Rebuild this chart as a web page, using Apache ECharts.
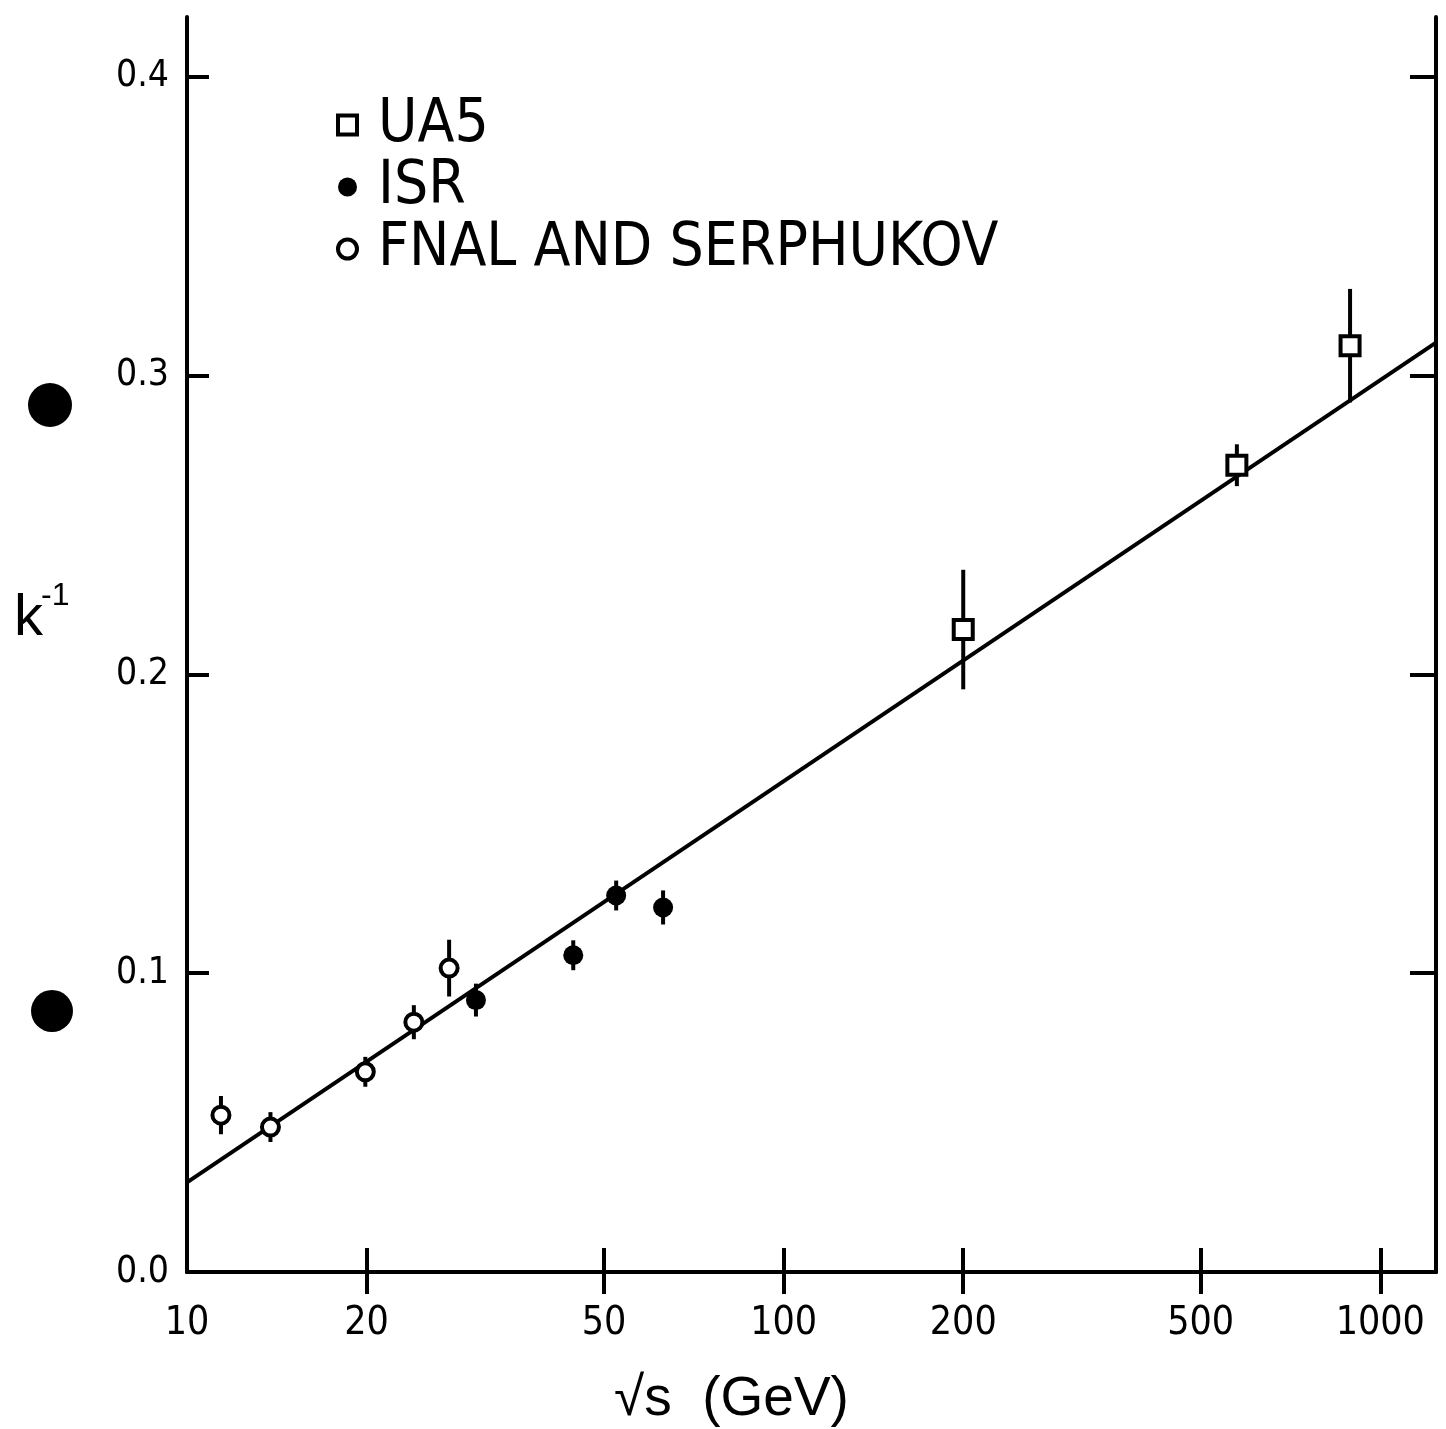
<!DOCTYPE html>
<html>
<head>
<meta charset="utf-8">
<script src="https://cdn.jsdelivr.net/npm/echarts@6/dist/echarts.min.js"></script>
<style>
html, body { margin: 0; padding: 0; background: #fff; }
#chart { width: 1446px; height: 1429px; }
</style>
</head>
<body>
<div id="chart"></div>
<script>
// values, sqrt(s) in GeV
var ua5Energy = [200, 575, 890];
var ua5Value = [0.215, 0.270, 0.310];
var ua5Err = [0.020, 0.007, 0.019];

var isrEnergy = [30.5, 44.4, 52.4, 62.8];
var isrValue = [0.091, 0.106, 0.126, 0.122];
var isrErr = [0.0055, 0.005, 0.005, 0.0057];

var fnalEnergy = [11.4, 13.8, 19.9, 24.0, 27.5];
var fnalValue = [0.0525, 0.0485, 0.067, 0.0836, 0.1017];
var fnalErr = [0.0064, 0.005, 0.005, 0.0057, 0.0095];

var fitEnergy = [10, 1240];
var fitValue = [0.030, 0.311];

var xTicks = [20, 50, 100, 200, 500, 1000];
var xLabels = [10, 20, 50, 100, 200, 500, 1000];
var yTicks = [0.1, 0.2, 0.3, 0.4];
var yLabels = [0, 0.1, 0.2, 0.3, 0.4];

var narrow = "'Liberation Sans Narrow', 'DejaVu Sans Condensed', sans-serif";

function lg(v) { return Math.log10(v); }

function points(energy, value) {
    return energy.map(function (e, i) { return [lg(e), value[i]]; });
}

function errorBars(name, energy, value, err) {
    return {
        name: name,
        type: 'custom',
        silent: true,
        z: 2,
        encode: { x: 0, y: [1, 2] },
        data: energy.map(function (e, i) { return [lg(e), value[i] - err[i], value[i] + err[i]]; }),
        renderItem: function (params, api) {
            var p1 = api.coord([api.value(0), api.value(1)]);
            var p2 = api.coord([api.value(0), api.value(2)]);
            return {
                type: 'line',
                shape: { x1: p1[0], y1: p1[1], x2: p2[0], y2: p2[1] },
                style: { stroke: '#000', lineWidth: 4 }
            };
        }
    };
}

var chart = echarts.init(document.getElementById('chart'));

var xMin = 1, xMax = lg(1240);

var option = {
    animation: false,
    backgroundColor: '#fff',
    grid: { left: 187, right: 10, top: 17, bottom: 157, containLabel: false, outerBoundsMode: 'none' },
    legend: {
        orient: 'vertical',
        left: 336,
        top: 94,
        padding: 0,
        itemWidth: 19,
        itemHeight: 19,
        itemGap: 0,
        selectedMode: false,
        textStyle: { fontFamily: narrow, fontSize: 60, lineHeight: 62, color: '#000', padding: [0, 0, 0, 16] },
        data: [
            { name: 'UA5', icon: 'rect', itemStyle: { color: '#fff', borderColor: '#000', borderWidth: 4 } },
            { name: 'ISR', icon: 'circle', itemStyle: { color: '#000', borderWidth: 0 } },
            { name: 'FNAL AND SERPHUKOV', icon: 'circle', itemStyle: { color: '#fff', borderColor: '#000', borderWidth: 4 } }
        ]
    },
    xAxis: [
        {
            type: 'value',
            position: 'bottom',
            min: xMin,
            max: xMax,
            splitLine: { show: false },
            axisLine: { show: true, lineStyle: { color: '#000', width: 4 } },
            axisTick: { inside: true, length: 24, lineStyle: { color: '#000', width: 4 }, customValues: xTicks.map(lg) },
            axisLabel: {
                customValues: xLabels.map(lg),
                formatter: function (v) { return String(Math.round(Math.pow(10, v))); },
                fontFamily: narrow, fontSize: 39, color: '#000', margin: 32
            }
        },
        {
            type: 'value',
            position: 'top',
            min: xMin,
            max: xMax,
            splitLine: { show: false },
            axisLine: { show: true, lineStyle: { color: '#000', width: 4 } },
            axisTick: { inside: true, length: 22, lineStyle: { color: '#000', width: 4 }, customValues: xTicks.map(lg) },
            axisLabel: { show: false }
        }
    ],
    yAxis: [
        {
            type: 'value',
            position: 'left',
            min: 0,
            max: 0.42,
            splitLine: { show: false },
            axisLine: { show: true, lineStyle: { color: '#000', width: 4 } },
            axisTick: { inside: true, length: 22, lineStyle: { color: '#000', width: 4 }, customValues: yTicks },
            axisLabel: {
                customValues: yLabels,
                formatter: function (v) { return v.toFixed(1); },
                fontFamily: narrow, fontSize: 37, color: '#000', margin: 18
            }
        },
        {
            type: 'value',
            position: 'right',
            min: 0,
            max: 0.42,
            splitLine: { show: false },
            axisLine: { show: true, lineStyle: { color: '#000', width: 4 } },
            axisTick: { inside: true, length: 26, lineStyle: { color: '#000', width: 4 }, customValues: yTicks },
            axisLabel: { show: false }
        }
    ],
    series: [
        {
            name: 'fit',
            type: 'line',
            data: points(fitEnergy, fitValue),
            symbol: 'none',
            silent: true,
            z: 1,
            lineStyle: { color: '#000', width: 4 }
        },
        errorBars('UA5 err', ua5Energy, ua5Value, ua5Err),
        errorBars('ISR err', isrEnergy, isrValue, isrErr),
        errorBars('FNAL err', fnalEnergy, fnalValue, fnalErr),
        {
            name: 'UA5',
            type: 'scatter',
            symbol: 'rect',
            symbolSize: 19,
            z: 3,
            itemStyle: { color: '#fff', borderColor: '#000', borderWidth: 4, opacity: 1 },
            data: points(ua5Energy, ua5Value)
        },
        {
            name: 'ISR',
            type: 'scatter',
            symbol: 'circle',
            symbolSize: 20,
            z: 3,
            itemStyle: { color: '#000', opacity: 1 },
            data: points(isrEnergy, isrValue)
        },
        {
            name: 'FNAL AND SERPHUKOV',
            type: 'scatter',
            symbol: 'circle',
            symbolSize: 17,
            z: 3,
            itemStyle: { color: '#fff', borderColor: '#000', borderWidth: 4, opacity: 1 },
            data: points(fnalEnergy, fnalValue)
        }
    ],
    graphic: [
        { type: 'text', x: 14, y: 619, style: { text: 'k', font: "58px 'Liberation Sans', sans-serif", fill: '#000', align: 'left', verticalAlign: 'middle' } },
        { type: 'text', x: 41, y: 596, style: { text: '-1', font: "32px 'Liberation Sans', sans-serif", fill: '#000', align: 'left', verticalAlign: 'middle' } },
        { type: 'text', x: 614, y: 1400, style: { text: '√s  (GeV)', font: "55px 'Liberation Sans', sans-serif", fill: '#000', align: 'left', verticalAlign: 'middle' } },
        { type: 'circle', shape: { cx: 50, cy: 405, r: 22 }, style: { fill: '#000' } },
        { type: 'circle', shape: { cx: 52, cy: 1011, r: 21 }, style: { fill: '#000' } }
    ]
};

chart.setOption(option);
</script>
</body>
</html>
